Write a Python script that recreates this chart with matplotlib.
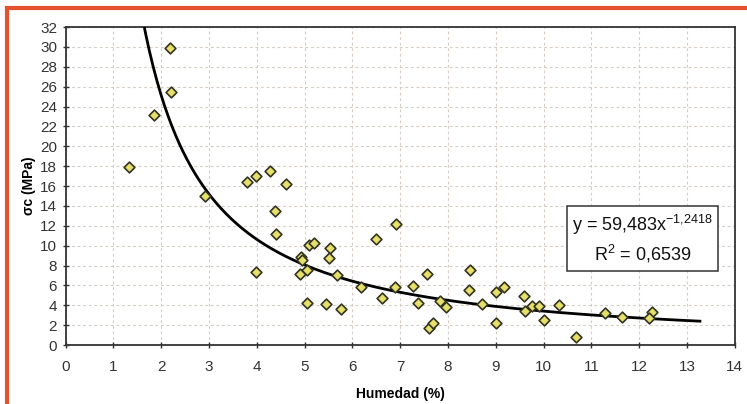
import numpy as np
import matplotlib.pyplot as plt
from matplotlib.patches import Rectangle

plt.rcParams['font.family'] = ['Liberation Sans', 'DejaVu Sans']
plt.rcParams['mathtext.fontset'] = 'custom'
plt.rcParams['mathtext.rm'] = 'Liberation Sans'
plt.rcParams['mathtext.it'] = 'Liberation Sans:italic'
plt.rcParams['mathtext.bf'] = 'Liberation Sans:bold'

# Humedad (%) y resistencia a compresion (MPa)
humedad = [1.33, 1.85, 2.19, 2.20, 2.92, 3.80, 3.98, 4.28, 4.61, 4.38,
           4.40, 3.98, 4.92, 4.95, 4.90, 5.05, 5.10, 5.20, 5.53, 5.51,
           5.68, 5.05, 5.45, 5.76, 6.18, 6.50, 6.91, 6.63, 6.89, 7.27,
           7.37, 7.56, 7.60, 7.69, 7.83, 7.96, 8.47, 8.44, 8.71, 9.00,
           9.17, 9.00, 9.59, 9.61, 9.76, 9.90, 10.00, 10.32, 10.68, 11.29,
           11.64, 12.27, 12.20]
sigma_c = [17.9, 23.2, 29.9, 25.5, 15.0, 16.4, 17.0, 17.5, 16.2, 13.5,
           11.2, 7.3, 8.9, 8.6, 7.1, 7.5, 10.1, 10.3, 9.8, 8.8,
           7.0, 4.2, 4.1, 3.6, 5.8, 10.7, 12.2, 4.7, 5.8, 5.9,
           4.2, 7.1, 1.7, 2.2, 4.4, 3.8, 7.6, 5.5, 4.1, 5.3,
           5.8, 2.2, 4.9, 3.4, 3.9, 3.9, 2.5, 4.0, 0.8, 3.2,
           2.8, 3.3, 2.7]

# ajuste potencial
a, b = 59.483, -1.2418
r2 = 0.6539

fig = plt.figure(figsize=(7.47, 4.04), dpi=100)
ax = fig.add_axes([0.0877, 0.146, 0.896, 0.787])

# marco naranja
fig.patches.append(Rectangle((7 / 747, -0.05), 1.2, 1.05 - 8 / 404, transform=fig.transFigure,
                             fill=False, edgecolor='#E4532D', lw=3, zorder=0))

xs = np.linspace(1.6, 13.27, 300)
ax.plot(xs, a * xs ** b, color='black', lw=2, zorder=3)
ax.scatter(humedad, sigma_c, marker='D', s=30, facecolor='#E6E06A',
           edgecolor='#333322', linewidth=1.2, zorder=4)

ax.set_xlim(0, 14)
ax.set_ylim(0, 32)
ax.set_xticks(range(0, 15))
ax.set_yticks(range(0, 33, 2))
ax.grid(True, color='#D6CCC6', linestyle=(0, (2.5, 2.5)), lw=0.8)
ax.set_axisbelow(True)
ax.tick_params(direction='inout', length=5, width=1, labelsize=11, colors='#333333')
ax.tick_params(axis='x', pad=8)
for s in ax.spines.values():
    s.set_color('#333333')
    s.set_linewidth(1.3)

ax.set_xlabel('Humedad (%)', fontsize=10, fontweight='bold', labelpad=10)
ax.set_ylabel('σc (MPa)', fontsize=10, fontweight='bold', labelpad=3)

exp_txt = f'{b:.4f}'.replace('.', '{,}')
ax.text(12.07, 10.65, f'y = {a:.3f}'.replace('.', ',') + 'x$^{' + exp_txt + '}$\n'
        + f'R$^2$ = {r2:.4f}'.replace('.', ','), ha='center', va='center',
        fontsize=13, linespacing=1.35, color='#111111',
        bbox=dict(boxstyle='square,pad=0.3', facecolor='white', edgecolor='#333333', lw=1.1),
        zorder=5)

fig.savefig('out.png', dpi=100)
